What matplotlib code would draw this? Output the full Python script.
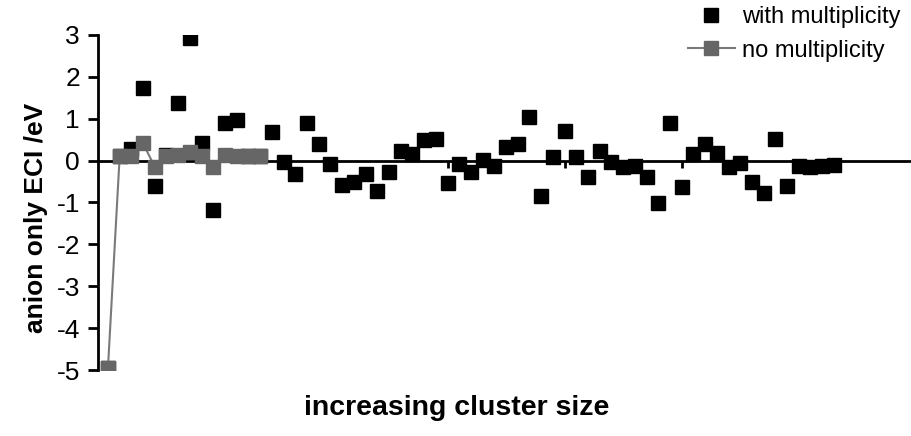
import matplotlib
matplotlib.use("Agg")
import matplotlib.pyplot as plt
import numpy as np

plt.rcParams['font.family'] = ['Liberation Sans', 'DejaVu Sans']

# anion-only ECI values, one per cluster
with_mult = [-4.95, 0.10, 0.28, 1.74, -0.60, 0.13, 1.37, 2.92, 0.41, -1.18,
             0.90, 0.97, 0.10, 0.10, 0.69, -0.03, -0.33, 0.91, 0.40, -0.07,
             -0.58, -0.50, -0.32, -0.72, -0.26, 0.24, 0.16, 0.49, 0.52, -0.54,
             -0.07, -0.26, 0.01, -0.12, 0.32, 0.40, 1.05, -0.84, 0.08, 0.71,
             0.08, -0.40, 0.24, -0.03, -0.16, -0.12, -0.40, -1.02, 0.91, -0.64,
             0.16, 0.40, 0.19, -0.15, -0.05, -0.50, -0.78, 0.52, -0.60, -0.12,
             -0.15, -0.13, -0.10]
no_mult = [-4.95, 0.10, 0.12, 0.41, -0.15, 0.12, 0.13, 0.20, 0.10, -0.15,
           0.13, 0.10, 0.10, 0.10]
yticks = [-5, -4, -3, -2, -1, 0, 1, 2, 3]

W, H = 911, 436
fig = plt.figure(figsize=(W / 100, H / 100), dpi=100)
ax = fig.add_axes([98 / W, (H - 370) / H, (910 - 98) / W, 335 / H])

x1 = np.arange(len(with_mult))
x2 = np.arange(len(no_mult))
ax.plot(x1, with_mult, 's', color='black', markersize=10, label='with multiplicity', zorder=3)
ax.plot(x2, no_mult, '-s', color='#7a7a7a', markerfacecolor='#666666', markeredgecolor='#666666',
        linewidth=1.5, markersize=10, label='no multiplicity', zorder=4)

ax.set_xlim(-0.85, 68.5)
ax.set_ylim(-5, 3)
ax.set_yticks(yticks)
ax.set_yticklabels([str(v) for v in yticks], fontsize=19)
ax.set_xticks([9, 19, 29, 39, 49, 59])
ax.set_xticklabels([])

for s in ['top', 'right']:
    ax.spines[s].set_visible(False)
ax.spines['bottom'].set_position(('data', 0))
ax.spines['bottom'].set_linewidth(2)
ax.spines['left'].set_linewidth(2)
ax.tick_params(axis='y', direction='out', length=7, width=2, pad=6)
ax.tick_params(axis='x', direction='out', length=5, width=2)

ax.set_ylabel('anion only ECI /eV', fontsize=19, fontweight='bold')
ax.yaxis.set_label_coords(-0.062, 0.455)
fig.text(457 / W, 1 - 408 / H, 'increasing cluster size',
         fontsize=20.5, fontweight='bold', ha='center', va='center')

ax.legend(loc='upper right', bbox_to_anchor=(1.0, 1.115), frameon=False, fontsize=17,
          handlelength=2.0, handletextpad=0.3, labelspacing=0.5, borderaxespad=0)

fig.savefig('out.png', dpi=100)
